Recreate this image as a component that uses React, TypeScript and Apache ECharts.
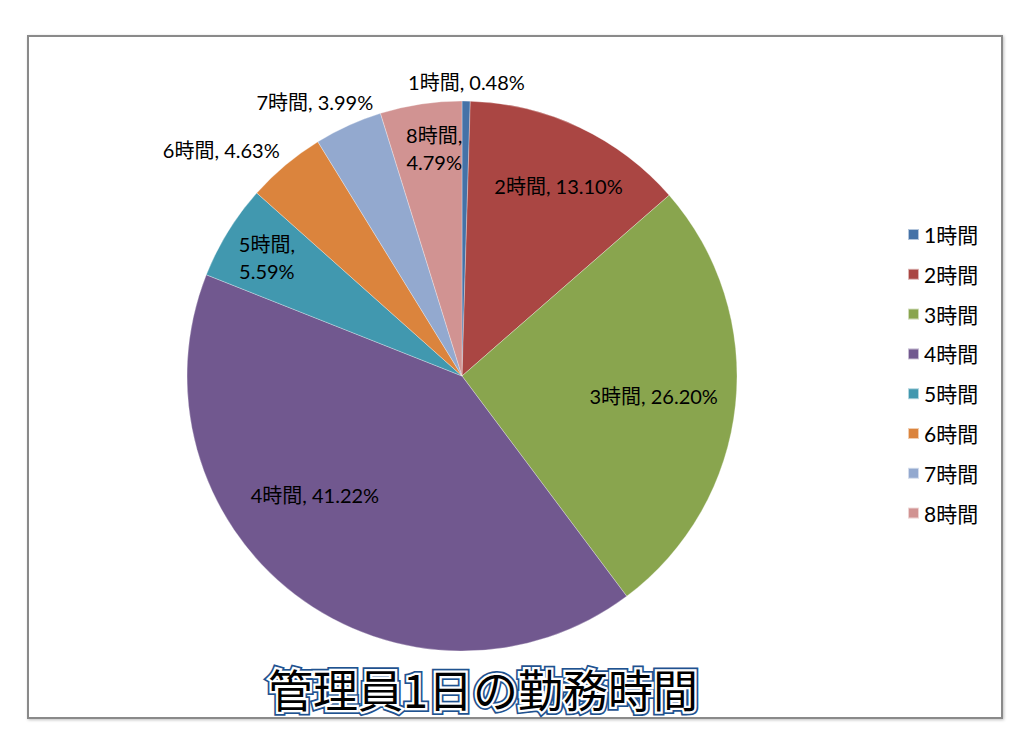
import React, { useEffect, useRef } from "react";
import * as echarts from "echarts";

const categories = ["1時間", "2時間", "3時間", "4時間", "5時間", "6時間", "7時間", "8時間"];
const values = [0.48, 13.1, 26.2, 41.22, 5.59, 4.63, 3.99, 4.79];
const colors = ["#4572A7", "#AA4643", "#89A54E", "#71588F", "#4198AF", "#DB843D", "#93A9CF", "#D19392"];
const titleText = "管理員1日の勤務時間";
// which slices' labels wrap onto two lines
const twoLine = [4, 7];

const FONT = "Lato, 'Noto Sans CJK JP', sans-serif";
const CX = 462;
const CY = 376;
const R = 275;

// label rings: [inner, outer] fraction of R, and which slices use them
const labelRings: { ring: [number, number]; idx: number[] }[] = [
  { ring: [0.38, 1], idx: [2, 3] },
  { ring: [0.62, 1], idx: [1, 4, 7] },
  { ring: [1, 1.12], idx: [0] },
  { ring: [1, 1.32], idx: [5, 6] },
];
// small label nudges (px) to mimic Excel's best-fit placement
const labelNudge: Record<number, [number, number]> = {
  1: [0, 14],
  3: [-30, -34],
  4: [-3, 0],
  5: [-34, 21],
  6: [-14, 19],
  7: [6, -4],
};

const fmt = (p: any) => {
  const i = p.dataIndex;
  const v = values[i].toFixed(2) + "%";
  return twoLine.includes(i) ? `${categories[i]},\n${v}` : `${categories[i]}, ${v}`;
};

const TITLE_FONT = "normal 45px 'Noto Sans CJK JP'";

export default function App() {
  const ref = useRef<HTMLDivElement>(null);
  useEffect(() => {
    if (!ref.current) return;
    const chart = echarts.init(ref.current, undefined, { renderer: "svg" });
    const mainData = categories.map((c, i) => ({
      name: c,
      value: values[i],
      itemStyle: { color: colors[i] },
    }));
    const labelSeries = labelRings.map((g, k) => ({
      type: "pie",
      name: "lbl" + k,
      center: [CX, CY],
      radius: [g.ring[0] * R, g.ring[1] * R],
      silent: true,
      z: 5,
      emphasis: { disabled: true },
      labelLine: { show: false },
      itemStyle: { color: "rgba(0,0,0,0)", borderWidth: 0 },
      data: categories.map((c, i) => ({
        name: c,
        value: values[i],
        itemStyle: { color: "rgba(0,0,0,0)" },
        label: { show: g.idx.includes(i) },
      })),
      label: {
        position: "inside",
        formatter: fmt,
        color: "#000",
        fontFamily: FONT,
        fontSize: 20,
        lineHeight: 27,
      },
      labelLayout: (p: any) => {
        const n = labelNudge[p.dataIndex];
        return n ? { dx: n[0], dy: n[1] } : {};
      },
    }));
    chart.setOption({
      animation: false,
      backgroundColor: "#fff",
      legend: {
        orient: "vertical",
        left: 907,
        top: 224,
        padding: 0,
        itemWidth: 11,
        itemHeight: 11,
        itemGap: 18.8,
        icon: "rect",
        data: categories,
        textStyle: { fontFamily: FONT, fontSize: 21, color: "#000", lineHeight: 20 },
      },
      graphic: [
        {
          type: "rect",
          z: -10,
          shape: { x: 28, y: 36, width: 974, height: 682 },
          style: { fill: "#fff", stroke: "#8a8a8a", lineWidth: 2, shadowColor: "rgba(0,0,0,0.25)", shadowBlur: 3, shadowOffsetX: 1, shadowOffsetY: 1 },
        },
        {
          type: "text",
          x: 483,
          y: 688,
          z: 10,
          style: {
            text: titleText,
            font: TITLE_FONT,
            align: "center",
            verticalAlign: "middle",
            fill: "#1d4f8f",
            stroke: "#1f5290",
            lineWidth: 8,
            shadowColor: "rgba(0,0,0,0.35)",
            shadowBlur: 3,
            shadowOffsetX: 2,
            shadowOffsetY: 3,
          },
        },
        {
          type: "text",
          x: 483,
          y: 688,
          z: 11,
          style: {
            text: titleText,
            font: TITLE_FONT,
            align: "center",
            verticalAlign: "middle",
            fill: "#fff",
            stroke: "#ffffff",
            lineWidth: 4.5,
          },
        },
        {
          type: "text",
          x: 483,
          y: 688,
          z: 12,
          style: {
            text: titleText,
            font: TITLE_FONT,
            align: "center",
            verticalAlign: "middle",
            fill: new echarts.graphic.LinearGradient(0, 0, 0, 1, [
              { offset: 0, color: "#4a8ad2" },
              { offset: 1, color: "#2362ad" },
            ]),
          },
        },
      ],
      series: [
        {
          type: "pie",
          name: "main",
          center: [CX, CY],
          radius: R,
          startAngle: 90,
          clockwise: true,
          label: { show: false },
          labelLine: { show: false },
          emphasis: { disabled: true },
          itemStyle: { borderColor: "rgba(255,255,255,0.6)", borderWidth: 0.5 },
          data: mainData,
        },
        ...labelSeries,
      ],
    });
    return () => chart.dispose();
  }, []);
  return <div ref={ref} style={{ position: "fixed", left: 0, top: 0, width: 1024, height: 741 }} />;
}
